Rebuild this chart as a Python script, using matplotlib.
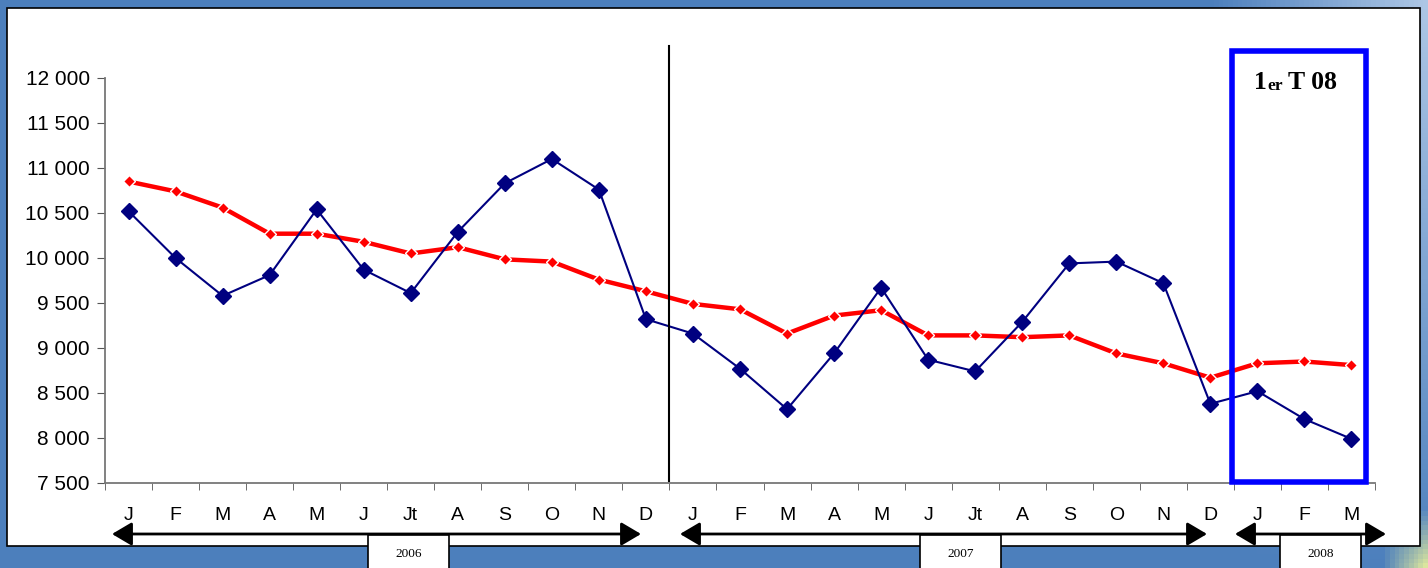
import numpy as np
import matplotlib
matplotlib.use('Agg')
import matplotlib.pyplot as plt
from matplotlib.patches import Rectangle
import matplotlib.ticker as tkr

months = ["J", "F", "M", "A", "M", "J", "Jt", "A", "S", "O", "N", "D",
          "J", "F", "M", "A", "M", "J", "Jt", "A", "S", "O", "N", "D",
          "J", "F", "M"]
monthly = [10520, 10000, 9580, 9810, 10540, 9870, 9610, 10290, 10830, 11100, 10760, 9320,
           9160, 8770, 8320, 8940, 9670, 8870, 8740, 9290, 9940, 9960, 9720, 8380,
           8520, 8210, 7990]
trend = [10850, 10740, 10560, 10270, 10270, 10180, 10050, 10120, 9985, 9960, 9760, 9630,
         9490, 9430, 9160, 9360, 9420, 9140, 9140, 9120, 9140, 8940, 8830, 8670,
         8830, 8850, 8810]
years = ["2006", "2007", "2008"]

W, H = 1428, 568
fig = plt.figure(figsize=(W / 100, H / 100), dpi=100)

# background (pixel coords, y down): blue with a light corner + white panel
bg = fig.add_axes([0, 0, 1, 1], zorder=0)
gx, gy = np.meshgrid(np.linspace(0, 1, 300), np.linspace(0, 1, 120))
base = np.array([0.30, 0.50, 0.74])
light = np.array([0.68, 0.78, 0.90])
yel = np.array([0.86, 0.90, 0.62])
wr = np.clip((gx - 0.85) / 0.15, 0, 1)[..., None] * np.clip(1 - gy, 0, 1)[..., None]
wy = np.clip((gx - 0.97) / 0.03, 0, 1)[..., None] * np.clip((gy - 0.9) / 0.1, 0, 1)[..., None]
img = base * (1 - wr) + light * wr
img = img * (1 - wy) + yel * wy
bg.imshow(img, aspect='auto', extent=[0, W, H, 0])
bg.set_xlim(0, W)
bg.set_ylim(H, 0)
bg.axis('off')
bg.add_patch(Rectangle((7, 8), 1413, 538, facecolor='white', edgecolor='black', lw=1.2))

ax = fig.add_axes([105 / W, 1 - 483 / H, 1270 / W, 405 / H], zorder=2)
ax.set_facecolor('none')
xs = np.arange(len(months))

ax.plot(xs, trend, color='#ff0000', lw=3.2, marker='D', ms=6.5, mfc='#ff0000',
        mec='white', mew=1.0, zorder=3)
ax.plot(xs, monthly, color='#000080', lw=1.5, marker='D', ms=8.5, mfc='#000080',
        mec='#000080', zorder=4)

ax.set_xlim(-0.5, len(months) - 0.5)
ax.set_ylim(7500, 12000)
ax.set_yticks(np.arange(7500, 12001, 500))
ax.yaxis.set_major_formatter(tkr.FuncFormatter(lambda v, p: "{:,}".format(int(v)).replace(",", " ")))
ax.set_xticks(xs)
ax.set_xticklabels(months)
ax.set_xticks(np.arange(-0.5, len(months)), minor=True)
ax.tick_params(axis='x', which='major', length=0, pad=17, labelsize=14)
ax.tick_params(axis='x', which='minor', length=5, color='#555555', direction='out')
ax.tick_params(axis='y', length=6, color='#555555', labelsize=15, pad=5)
for lab in ax.get_xticklabels() + ax.get_yticklabels():
    lab.set_family('Liberation Sans')
for s in ['top', 'right']:
    ax.spines[s].set_visible(False)
for s in ['left', 'bottom']:
    ax.spines[s].set_color('#777777')
    ax.spines[s].set_linewidth(1.3)

# year separator
ax.plot([11.5, 11.5], [7520, 12360], color='black', lw=1.5, clip_on=False, zorder=5)

# first quarter 2008 box
ax.add_patch(Rectangle((23.45, 7510), 2.85, 4790, fill=False, edgecolor='#0000ff',
                       lw=4, clip_on=False, zorder=6))

# overlay (pixel coords) for the title of the box, arrows and year boxes
ov = fig.add_axes([0, 0, 1, 1], zorder=3)
ov.set_xlim(0, W)
ov.set_ylim(H, 0)
ov.axis('off')

t1 = ov.text(1254, 89, "1", fontsize=18.5, weight='bold',
             family='Liberation Serif', va='baseline', ha='left')
t2 = ov.annotate("er", xy=(1, 0), xycoords=t1, fontsize=12.5, weight='bold',
                 family='Liberation Serif', va='bottom', ha='left', annotation_clip=False)
ov.annotate(" T 08", xy=(1, 0), xycoords=t2, fontsize=18.5, weight='bold',
            family='Liberation Serif', va='bottom', ha='left', annotation_clip=False)

arrows = [(112, 641), (680, 1207), (1235, 1386)]
boxes = [(368, 449), (920, 1001), (1280, 1361)]
for (a, b), (c, d), yr in zip(arrows, boxes, years):
    ov.annotate("", xy=(b, 534), xytext=(a, 534),
                arrowprops=dict(arrowstyle='<|-|>,head_length=1.1,head_width=0.65',
                                color='black', lw=2.0, mutation_scale=11,
                                shrinkA=0, shrinkB=0))
    ov.add_patch(Rectangle((c, 535), d - c, 45, facecolor='white', edgecolor='black',
                           lw=1.2, zorder=5))
    ov.text((c + d) / 2, 554, yr, fontsize=9.5, family='Liberation Serif',
            ha='center', va='center', zorder=6)

fig.savefig("out.png", dpi=100)
